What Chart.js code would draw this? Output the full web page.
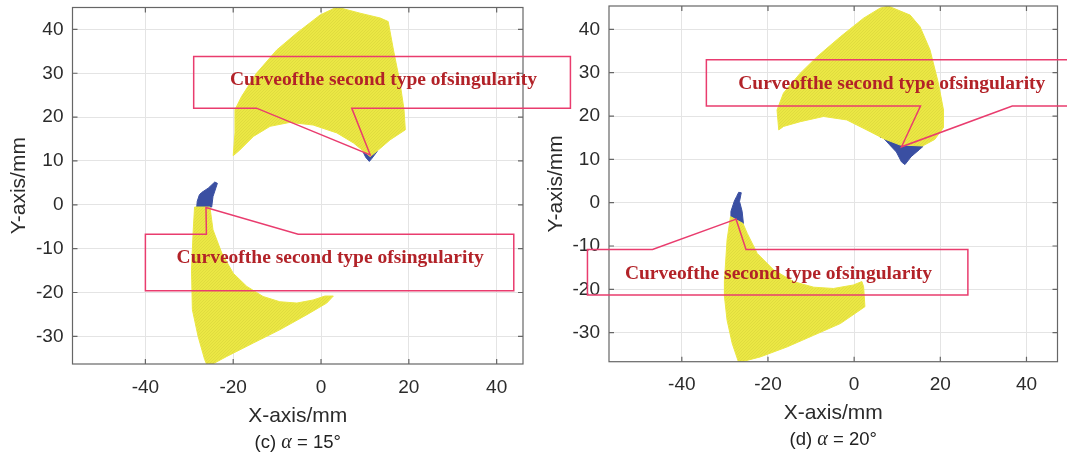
<!DOCTYPE html>
<html>
<head>
<meta charset="utf-8">
<script src="https://cdn.jsdelivr.net/npm/chart.js@4.4.0/dist/chart.umd.min.js"></script>
<style>
  html, body { margin: 0; padding: 0; background: #fff; }
  #figure { position: relative; width: 1067px; height: 457px; overflow: hidden; }
  #figure canvas { position: absolute; left: 0; top: 0; }
</style>
</head>
<body>
<div id="figure">
  <canvas id="plot15" width="1067" height="457"></canvas>
  <canvas id="plot20" width="1067" height="457"></canvas>
</div>
<script>
// shared axes
const xTicks = [-40, -20, 0, 20, 40];
const yTicks = [-30, -20, -10, 0, 10, 20, 30, 40];

// (c) alpha = 15 deg
const xRange15 = [-56.6, 46.0];
const yRange15 = [-36.3, 45.0];
const upperZone15 = [[3.6,45.1],[8.9,43.7],[13.5,42.6],[15.3,41.8],[16.5,35.3],[18.0,27.8],[18.9,21.7],[19.2,17.1],[15.7,14.8],[12.7,12.2],[11.2,11.0],[7.4,14.1],[3.6,16.4],[-1.8,18.2],[-7.1,18.8],[-11.6,17.9],[-15.4,15.6],[-18.5,12.5],[-20.0,11.2],[-19.6,16.4],[-19.6,21.7],[-18.1,24.7],[-14.7,30.0],[-10.1,35.3],[-5.5,39.2],[-0.2,43.3]];
const lowerZone15 = [[-28.8,-0.5],[-29.1,-5.7],[-29.5,-14.8],[-29.3,-23.9],[-28.0,-30.0],[-26.5,-35.3],[-25.8,-36.9],[-21.5,-34.6],[-15.4,-31.5],[-9.4,-28.5],[-3.3,-25.1],[1.3,-22.4],[2.8,-20.8],[0.9,-20.8],[-1.8,-21.7],[-5.5,-22.4],[-9.4,-22.1],[-13.2,-20.9],[-16.9,-18.6],[-20.0,-15.6],[-22.6,-11.0],[-24.6,-5.7],[-25.3,-0.5]];
const upperSing15 = [[9.6,12.0],[12.8,12.2],[11.6,10.6],[11.0,9.9],[10.2,10.8]];
const lowerSing15 = [[-28.3,-0.5],[-24.9,-0.5],[-24.6,1.9],[-23.6,4.9],[-24.2,5.2],[-25.7,3.8],[-27.2,2.8],[-27.7,2.3],[-28.2,0.8]];
const singDots15 = [];
const calloutTop15 = [[-29.0,33.8],[56.8,33.8],[56.8,22.05],[7.0,22.05],[11.2,11.4],[-14.7,22.05],[-29.0,22.05]];
const calloutBot15 = [[-40.0,-6.7],[-26.1,-6.7],[-26.2,-0.6],[-5.2,-6.7],[43.9,-6.7],[43.9,-19.6],[-40.0,-19.6]];
const labelAt15 = [[-20.75, 27.4], [-32.9, -13.3]];
const caption15 = ['(c) ', 'α', ' = 15°'];

// (d) alpha = 20 deg
const xRange20 = [-56.9, 47.2];
const yRange20 = [-36.7, 45.4];
const upperZone20 = [[7.9,45.4],[13.0,43.3],[15.3,40.6],[17.6,35.3],[19.5,27.8],[20.7,21.6],[20.7,17.3],[18.7,14.6],[15.9,13.1],[10.7,13.3],[6.8,14.8],[3.7,16.4],[-1.7,19.1],[-7.1,19.9],[-12.5,18.7],[-16.4,17.6],[-17.5,16.8],[-17.9,21.4],[-16.4,25.3],[-12.5,29.9],[-8.6,33.7],[-3.2,38.3],[2.2,42.6],[6.0,44.9]];
const lowerZone20 = [[-28.7,-3.2],[-29.5,-8.6],[-30.1,-17.9],[-30.1,-21.7],[-29.5,-27.1],[-28.3,-32.5],[-26.8,-36.9],[-21.8,-35.6],[-15.6,-33.3],[-9.4,-30.6],[-3.2,-27.9],[2.5,-24.0],[2.2,-19.4],[1.8,-18.2],[-0.2,-19.0],[-4.8,-19.8],[-9.4,-19.5],[-14.1,-18.2],[-18.7,-15.5],[-22.5,-11.7],[-24.8,-7.1],[-25.8,-4.8]];
const upperSing20 = [[7.0,14.7],[10.5,13.6],[13.5,13.3],[16.0,13.0],[15.2,12.3],[13.2,10.6],[11.8,8.8],[11.0,9.4],[9.8,11.7],[8.2,13.4]];
const lowerSing20 = [[-26.8,2.4],[-26.2,2.3],[-26.6,0.3],[-26.0,-2.0],[-25.7,-4.8],[-26.8,-4.2],[-28.6,-3.5],[-28.6,-2.0],[-27.8,0.4],[-27.3,1.4]];
const singDots20 = [[6.3,15.3]];
const calloutTop20 = [[-34.3,33.0],[60.0,33.0],[60.0,22.3],[36.7,22.3],[11.0,12.9],[15.4,22.3],[-34.3,22.3]];
const calloutBot20 = [[-61.9,-10.8],[-46.8,-10.8],[-27.4,-3.8],[-25.1,-10.8],[26.4,-10.8],[26.4,-21.3],[-61.9,-21.3]];
const labelAt20 = [[-26.9, 26.2], [-53.2, -17.5]];
const caption20 = ['(d) ', 'α', ' = 20°'];

const calloutText = 'Curveofthe second type ofsingularity';

const FIG_W = 1067, FIG_H = 457;
const SANS = '"Liberation Sans", Arial, sans-serif';
const SERIF = '"Liberation Serif", "Times New Roman", serif';
const TEXT = '#2b2b2b';
const YELLOW = '#ebe744';
const BLUE = '#3a4fa2';
const PINK = '#e93c6e';
const DARK_RED = '#b22228';

const toXY = pts => pts.map(([x, y]) => ({ x, y }));

// fine diagonal striping, like a dense point grid
function hatch(base, stripe) {
  const c = document.createElement('canvas');
  c.width = 3; c.height = 3;
  const g = c.getContext('2d');
  g.fillStyle = base;
  g.fillRect(0, 0, 3, 3);
  g.fillStyle = stripe;
  for (let i = 0; i < 3; i++) g.fillRect(i, 2 - i, 1, 1);
  return g.createPattern(c, 'repeat');
}
const YELLOW_FILL = hatch(YELLOW, '#e0dc3e');

function zoneSet(pts, fillStyle, edge) {
  return {
    data: toXY(pts.concat([pts[0]])),
    showLine: true,
    fill: 'shape',
    backgroundColor: fillStyle,
    borderColor: edge,
    borderWidth: 1,
    pointRadius: 0,
    tension: 0
  };
}

// MATLAB-style box with inward tick marks
const axesBox = {
  id: 'axesBox',
  afterDatasetsDraw(chart) {
    const { ctx, chartArea: { left, right, top, bottom }, scales: { x, y } } = chart;
    ctx.save();
    ctx.strokeStyle = '#666666';
    ctx.lineWidth = 1.2;
    ctx.strokeRect(left, top, right - left, bottom - top);
    ctx.beginPath();
    x.ticks.forEach(t => {
      const px = x.getPixelForValue(t.value);
      ctx.moveTo(px, bottom); ctx.lineTo(px, bottom - 5);
      ctx.moveTo(px, top); ctx.lineTo(px, top + 5);
    });
    y.ticks.forEach(t => {
      const py = y.getPixelForValue(t.value);
      ctx.moveTo(left, py); ctx.lineTo(left + 5, py);
      ctx.moveTo(right, py); ctx.lineTo(right - 5, py);
    });
    ctx.stroke();
    ctx.restore();
  }
};

// callout boxes, their labels and the panel caption
function makeOverlay(spec) {
  return {
    id: 'overlay',
    afterDraw(chart) {
      const { ctx, chartArea, scales: { x, y } } = chart;
      ctx.save();
      ctx.strokeStyle = PINK;
      ctx.lineWidth = 1.5;
      spec.callouts.forEach(pts => {
        ctx.beginPath();
        pts.forEach(([a, b], i) => {
          const px = x.getPixelForValue(a), py = y.getPixelForValue(b);
          if (i) ctx.lineTo(px, py); else ctx.moveTo(px, py);
        });
        ctx.closePath();
        ctx.stroke();
      });
      ctx.fillStyle = DARK_RED;
      ctx.font = 'bold 19.5px ' + SERIF;
      ctx.textAlign = 'left';
      ctx.textBaseline = 'alphabetic';
      spec.labels.forEach(([a, b]) => {
        ctx.fillText(calloutText, x.getPixelForValue(a), y.getPixelForValue(b));
      });

      // caption: "(c) α = 15°" with an italic alpha
      const fonts = ['18.5px ' + SANS, 'italic 20px ' + SERIF, '18.5px ' + SANS];
      let total = 0;
      const widths = spec.caption.map((s, i) => { ctx.font = fonts[i]; const w = ctx.measureText(s).width; total += w; return w; });
      let cx = (chartArea.left + chartArea.right) / 2 - total / 2;
      const cy = chartArea.bottom + 78.5;
      ctx.fillStyle = '#222222';
      ctx.textBaseline = 'middle';
      spec.caption.forEach((s, i) => {
        ctx.font = fonts[i];
        ctx.fillText(s, cx, cy);
        cx += widths[i];
      });
      ctx.restore();
    }
  };
}

function makePlot(id, spec) {
  const area = spec.area;
  const padLeft = spec.yTitleX - 16.6;
  return new Chart(document.getElementById(id), {
    type: 'scatter',
    data: {
      datasets: [
        zoneSet(spec.zones[0], YELLOW_FILL, YELLOW),
        zoneSet(spec.zones[1], YELLOW_FILL, YELLOW),
        zoneSet(spec.sings[0], BLUE, BLUE),
        zoneSet(spec.sings[1], BLUE, BLUE),
        {
          data: toXY(spec.dots),
          showLine: false,
          pointRadius: 1.6,
          pointBackgroundColor: BLUE,
          pointBorderWidth: 0
        }
      ]
    },
    options: {
      responsive: false,
      animation: false,
      events: [],
      layout: { padding: { left: padLeft, top: area.top, right: FIG_W - area.right, bottom: 0 } },
      plugins: { legend: { display: false }, tooltip: { enabled: false } },
      scales: {
        x: {
          min: spec.xRange[0], max: spec.xRange[1], bounds: 'data',
          afterBuildTicks: s => { s.ticks = xTicks.map(v => ({ value: v })); },
          afterFit: s => {
            s.height = FIG_H - area.bottom;
            s.paddingLeft = 0; s.paddingRight = 0;
          },
          grid: { color: '#e4e4e4', drawTicks: false },
          border: { display: false },
          ticks: { padding: 12, color: TEXT, font: { family: SANS, size: 19 } },
          title: {
            display: true, text: 'X-axis/mm', color: TEXT,
            font: { family: SANS, size: 21 },
            padding: { top: 0, bottom: FIG_H - 12.6 - (area.bottom + 52) }
          }
        },
        y: {
          min: spec.yRange[0], max: spec.yRange[1], bounds: 'data',
          afterBuildTicks: s => { s.ticks = yTicks.map(v => ({ value: v })); },
          afterFit: s => {
            s.width = area.left - padLeft;
            s.paddingTop = 0; s.paddingBottom = 0;
          },
          grid: { color: '#e4e4e4', drawTicks: false },
          border: { display: false },
          ticks: { padding: 9, color: TEXT, font: { family: SANS, size: 19 } },
          title: {
            display: true, text: 'Y-axis/mm', color: TEXT,
            font: { family: SANS, size: 21 },
            padding: { top: 4, bottom: 0 }
          }
        }
      }
    },
    plugins: [axesBox, makeOverlay(spec)]
  });
}

makePlot('plot15', {
  area: { left: 72.5, right: 523, top: 7.5, bottom: 364 },
  yTitleX: 19.5,
  xRange: xRange15, yRange: yRange15,
  zones: [upperZone15, lowerZone15],
  sings: [upperSing15, lowerSing15],
  dots: singDots15,
  callouts: [calloutTop15, calloutBot15],
  labels: labelAt15,
  caption: caption15
});

makePlot('plot20', {
  area: { left: 609, right: 1057.5, top: 6, bottom: 361.7 },
  yTitleX: 556.5,
  xRange: xRange20, yRange: yRange20,
  zones: [upperZone20, lowerZone20],
  sings: [upperSing20, lowerSing20],
  dots: singDots20,
  callouts: [calloutTop20, calloutBot20],
  labels: labelAt20,
  caption: caption20
});
</script>
</body>
</html>
